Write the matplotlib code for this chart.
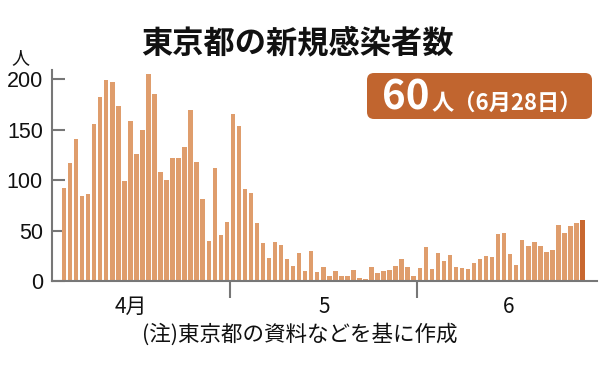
import matplotlib
matplotlib.use('Agg')
import matplotlib.pyplot as plt
from matplotlib import font_manager
from matplotlib.patches import FancyBboxPatch
import pandas as pd
import numpy as np

# ---- data ----
start_date = '2020-04-03'
end_date = '2020-06-28'
apr_vals = [92, 117, 141, 84, 86, 156, 182, 199, 197, 173, 99, 158, 126, 150,
            205, 185, 108, 100, 122, 122, 133, 169, 118, 81, 40, 112, 46, 58]
may_vals = [165, 154, 91, 87, 57, 38, 23, 39, 36, 22, 15, 28, 10, 30, 9, 14,
            5, 10, 5, 5, 11, 3, 2, 14, 8, 10, 11, 15, 22, 14, 5]
jun_vals = [13, 34, 12, 28, 20, 26, 14, 13, 12, 18, 22, 25, 24, 47, 48, 27,
            16, 41, 35, 39, 35, 29, 31, 55, 48, 54, 57, 60]
month_labels = ['4月', '5', '6']
y_ticks = [0, 50, 100, 150, 200]
title = '東京都の新規感染者数'
unit = '人'
badge_big = '60'
badge_small = '人（6月28日）'
note = '(注)東京都の資料などを基に作成'

plt.rcParams['font.family'] = ['Noto Sans CJK JP', 'DejaVu Sans']
names = {f.name for f in font_manager.fontManager.ttflist}
num_font = 'Liberation Sans Narrow' if 'Liberation Sans Narrow' in names else 'Liberation Sans'

values = apr_vals + may_vals + jun_vals
dates = pd.date_range(start_date, end_date, freq='D')
origin = pd.Timestamp('2020-04-01')
xpos = np.array([(d - origin).days for d in dates]) + 0.5
month_starts = [(pd.Timestamp(m) - origin).days for m in ['2020-05-01', '2020-06-01']]

W, H = 600, 372
fig = plt.figure(figsize=(6, 3.72), dpi=100)
def fx(p): return p / W
def fy(p): return 1 - p / H

ax = fig.add_axes([fx(52), fy(281), fx(597) - fx(52), (281 - 70) / H])
bar_color = '#DF9D6C'
last_color = '#C8672F'
colors = [bar_color] * (len(values) - 1) + [last_color]
ax.bar(xpos, values, width=0.74, color=colors, linewidth=0, zorder=2)

ax.set_xlim(0.5, 90.9)
ax.set_ylim(0, 209)
for s in ['top', 'right']:
    ax.spines[s].set_visible(False)
for s in ['left', 'bottom']:
    ax.spines[s].set_color('#777777')
    ax.spines[s].set_linewidth(1.5)
    ax.spines[s].set_zorder(3)

ax.set_yticks(y_ticks)
ax.set_yticklabels([str(v) for v in y_ticks], fontsize=15.5, family=num_font, color='#111111')
ax.tick_params(axis='y', direction='in', length=9, width=1.5, color='#777777', pad=6.5)

ax.set_xticks(month_starts)
ax.set_xticklabels(['', ''])
ax.tick_params(axis='x', which='major', direction='out', length=12, width=1.5, color='#777777')
ax.set_xticks([13.6, 45.6, 76.3], minor=True)
ax.set_xticklabels(month_labels, minor=True, fontsize=15, color='#111111')
ax.tick_params(axis='x', which='minor', length=0, pad=11)

ov = fig.add_axes([0, 0, 1, 1], zorder=5)
ov.set_xlim(0, W)
ov.set_ylim(H, 0)
ov.axis('off')
ov.patch.set_alpha(0)

ov.text(297, 43, title, ha='center', va='center', fontsize=22.5, fontweight='bold', color='#111111')
ov.text(20, 58, unit, ha='center', va='center', fontsize=13, color='#111111')

box = FancyBboxPatch((367, 73), 225, 46, boxstyle='round,pad=0,rounding_size=7',
                     fc='#C1652F', ec='none')
ov.add_patch(box)
ov.text(429, 110, badge_big, ha='right', va='baseline', fontsize=29, fontweight='bold', color='white')
ov.text(431, 110, badge_small, ha='left', va='baseline', fontsize=16, fontweight='bold', color='white')

ov.text(300, 334, note, ha='center', va='center', fontsize=15.5, color='#111111')

fig.savefig('out.png', dpi=100)
